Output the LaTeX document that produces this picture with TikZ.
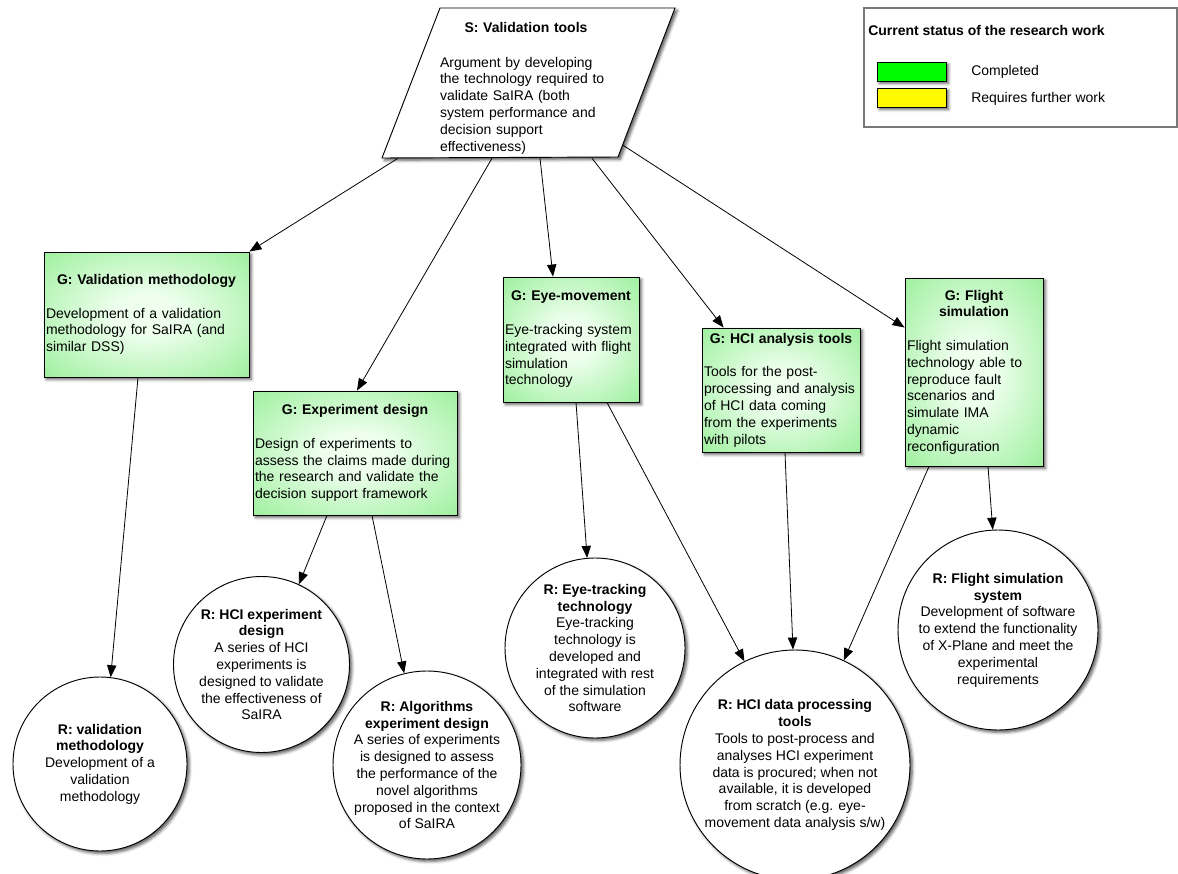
\documentclass[tikz,border=0pt]{standalone}
\usepackage{fontspec}
\setmainfont{Liberation Sans}
\usetikzlibrary{arrows.meta,shadows.blur,calc}

\definecolor{gEdge}{RGB}{140,236,140}
\definecolor{gCenter}{RGB}{238,255,238}
\definecolor{legendGreen}{RGB}{0,250,0}
\definecolor{legendYellow}{RGB}{255,250,0}
\definecolor{legendFrame}{RGB}{120,120,120}

% white centre fading to green towards the box edges
\pgfdeclareradialshading{goalshade}{\pgfpoint{0bp}{0bp}}{color(0bp)=(gCenter); color(8bp)=(gCenter); color(42bp)=(gEdge); color(50bp)=(gEdge)}

\tikzset{
  softshadow/.style={blur shadow={shadow xshift=1.8pt, shadow yshift=-1.8pt, shadow blur radius=2.2pt, shadow opacity=65}},
  goalbox/.style={rectangle, draw=black, line width=0.7pt, shade, shading=goalshade, softshadow,
               inner xsep=1.5pt, inner ysep=0pt, align=left},
  resultnode/.style={circle, draw=black, line width=0.7pt, fill=white, softshadow,
                 inner sep=-40pt, align=center},
  linkarrow/.style={draw=black, line width=0.6pt, -{Triangle[length=9pt,width=7pt]}},
  swatch/.style={rectangle, draw=black, line width=0.6pt, softshadow,
                 minimum width=51.75pt, minimum height=14.25pt, inner sep=0pt},
}

\begin{document}
\begin{tikzpicture}[x=0.75pt, y=-0.75pt, font=\fontsize{10.5}{12.6}\selectfont]
\useasboundingbox (0,0) rectangle (1178,874);

% ---------- strategy ----------
\draw[fill=white, line width=0.7pt, softshadow] (440,8) -- (675,8) -- (618,157) -- (382,158) -- cycle;
\node[inner sep=0pt, minimum height=112.5pt, text width=129pt, align=left] (S) at (526,83)
  {};
\node[inner sep=0pt, text width=129pt, align=left] (Stext) at (526,88)
  {{\centering\bfseries S: Validation tools\par}\vspace{13.5pt}%
   Argument by developing\\the technology required to\\validate SaIRA (both\\system performance and\\decision support\\effectiveness)};

% ---------- legend ----------
\node[draw=legendFrame, line width=0.8pt, minimum width=234.75pt, minimum height=89.25pt, inner sep=0pt] (legend) at (1020.5,67.5) {};
\node[anchor=west, inner sep=0pt, font=\fontsize{10.5}{12.6}\selectfont\bfseries] (legtitle) at (868,30) {Current status of the research work};
\node[swatch, fill=legendGreen] (swgreen) at (911.5,71.5) {};
\node[swatch, fill=legendYellow] (swyellow) at (911.5,97.5) {};
\node[anchor=west, inner sep=0pt] (lgreen) at (971,72) {Completed};
\node[anchor=west, inner sep=0pt] (lyellow) at (971,99) {Requires further work};

% ---------- goals ----------
\node[goalbox, minimum width=153.75pt, minimum height=93.75pt, text width=150.75pt] (GV) at (146.5,314.5)
  {{\centering\bfseries G: Validation methodology\par}\vspace{12.6pt}%
   Development of a validation\\methodology for SaIRA (and\\similar DSS)};
\node[goalbox, minimum width=153pt, minimum height=93pt, text width=150pt] (GE) at (355,453)
  {{\centering\bfseries G: Experiment design\par}\vspace{12.6pt}%
   Design of experiments to\\assess the claims made during\\the research and validate the\\decision support framework};
\node[goalbox, minimum width=102pt, minimum height=93.75pt, text width=99pt] (GM) at (571,339.5)
  {{\centering\bfseries G: Eye-movement\par}\vspace{12.6pt}%
   Eye-tracking system\\integrated with flight\\simulation\\technology};
\node[goalbox, minimum width=118.5pt, minimum height=93pt, text width=115.5pt] (GH) at (781,390)
  {{\centering\bfseries G: HCI analysis tools\par}\vspace{12.6pt}%
   Tools for the post-\\processing and analysis\\of HCI data coming\\from the experiments\\with pilots};
\node[goalbox, minimum width=103.5pt, minimum height=141pt, text width=100.5pt] (GF) at (974,372)
  {{\centering\bfseries G: Flight\\simulation\par}\vspace{12.6pt}%
   Flight simulation\\technology able to\\reproduce fault\\scenarios and\\simulate IMA\\dynamic\\reconfiguration};

% ---------- results ----------
\node[resultnode, minimum size=130.5pt] (RV) at (100,764)
  {\textbf{R: validation}\\\textbf{methodology}\\Development of a\\validation\\methodology};
\node[resultnode, minimum size=132pt] (RH) at (261.5,664.5)
  {\textbf{R: HCI experiment}\\\textbf{design}\\A series of HCI\\experiments is\\designed to validate\\the effectiveness of\\SaIRA};
\node[resultnode, minimum size=141pt] (RA) at (427,765)
  {\textbf{R: Algorithms}\\\textbf{experiment design}\\A series of experiments\\is designed to assess\\the performance of the\\novel algorithms\\proposed in the context\\of SaIRA};
\node[resultnode, minimum size=135pt] (RE) at (595,648)
  {\textbf{R: Eye-tracking}\\\textbf{technology}\\Eye-tracking\\technology is\\developed and\\integrated with rest\\of the simulation\\software};
\node[resultnode, minimum size=172.5pt] (RD) at (795,765)
  {\textbf{R: HCI data processing}\\\textbf{tools}\\Tools to post-process and\\analyses HCI experiment\\data is procured; when not\\available, it is developed\\from scratch (e.g. eye-\\movement data analysis s/w)};
\node[resultnode, minimum size=150pt] (RF) at (998,630)
  {\textbf{R: Flight simulation}\\\textbf{system}\\Development of software\\to extend the functionality\\of X-Plane and meet the\\experimental\\requirements};

% ---------- connectors ----------
\draw[linkarrow] ($(S.south)+(-128,0)$) -- (GV.north east);
\draw[linkarrow] ($(S.south)+(-34,0)$) -- ($(GE.north)+(2,0)$);
\draw[linkarrow] ($(S.south)+(14,0)$) -- ($(GM.north)+(-18,0)$);
\draw[linkarrow] ($(S.south)+(66,0)$) -- ($(GH.north west)+(22,0)$);
\draw[linkarrow] ($(S.south)+(97,-13)$) -- ($(GF.north west)+(0,50)$);

\draw[linkarrow] ($(GV.south)+(-8.5,0)$) -- (RV.83);
\draw[linkarrow] ($(GE.south)+(-28,0)$) -- (RH.65);
\draw[linkarrow] ($(GE.south)+(17,0)$) -- (RA.104);
\draw[linkarrow] ($(GM.south)+(5,0)$) -- (RE.95);
\draw[linkarrow] ($(GM.south)+(36,0)$) -- (RD.116);
\draw[linkarrow] ($(GH.south)+(4,0)$) -- (RD.91);
\draw[linkarrow] ($(GF.south)+(-45,0)$) -- (RD.65);
\draw[linkarrow] ($(GF.south)+(14,0)$) -- (RF.93);
\end{tikzpicture}
\end{document}
